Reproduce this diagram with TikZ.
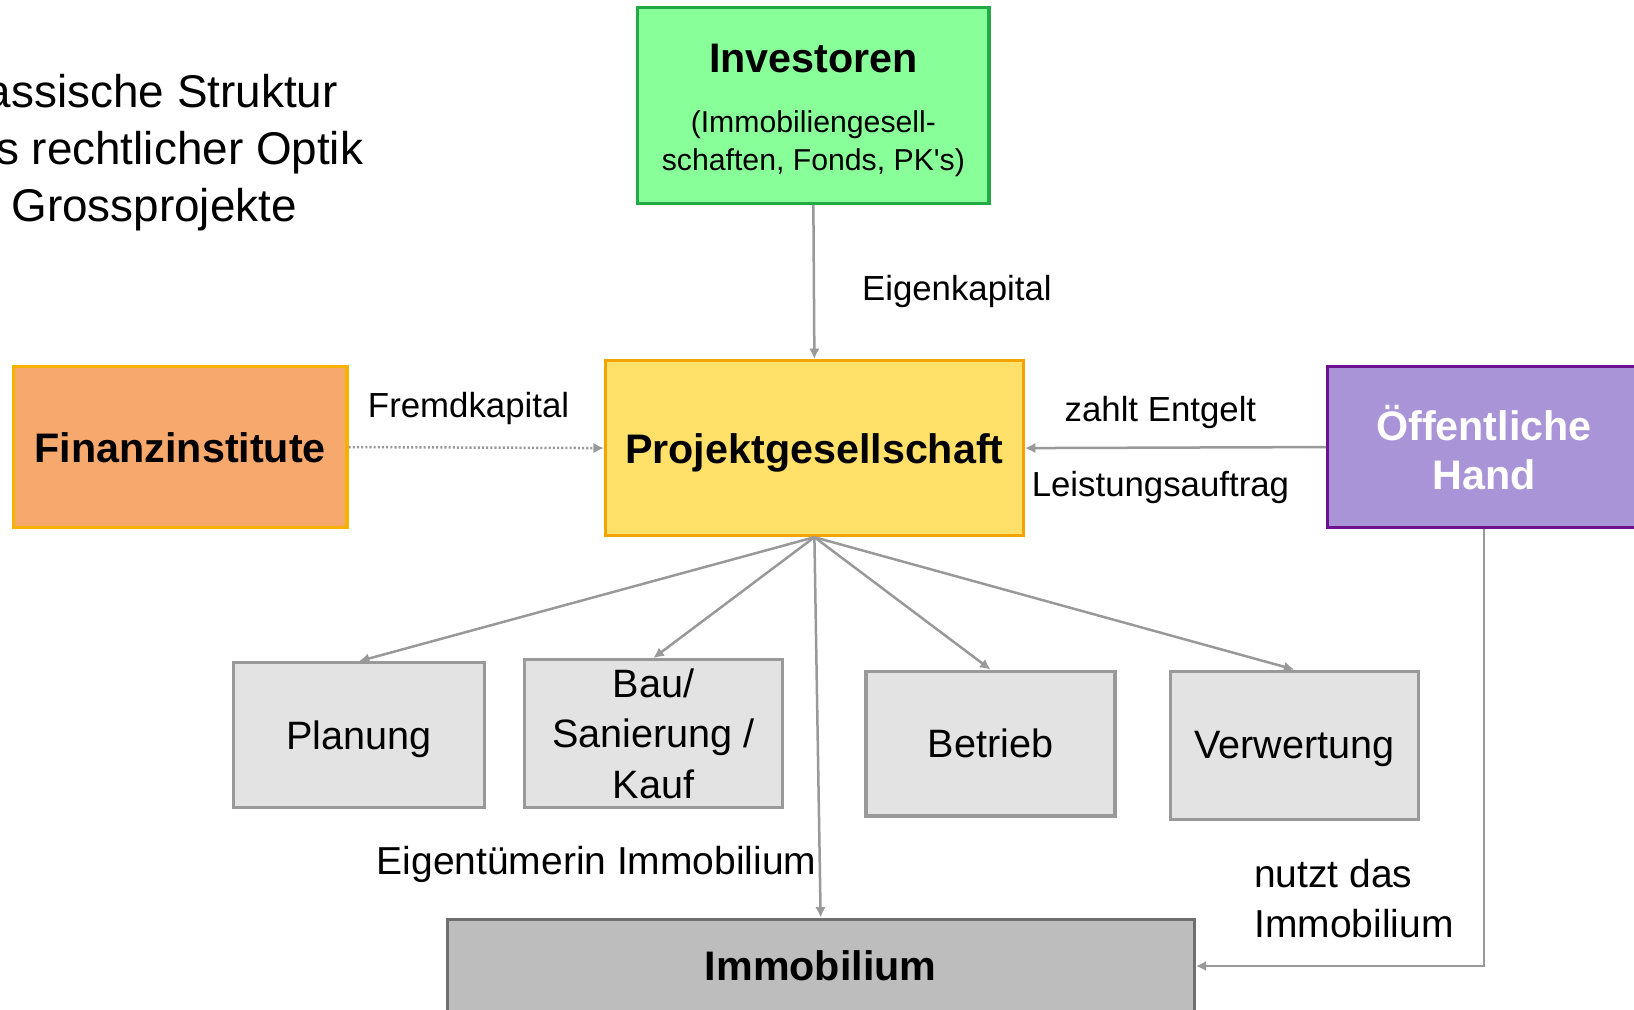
\documentclass[tikz,border=0pt]{standalone}
\usepackage{fontspec}
\setmainfont{Liberation Sans}
\usepackage{xcolor}
\usetikzlibrary{arrows.meta,calc,positioning}

\definecolor{invgreen}{HTML}{88FF99}
\definecolor{invborder}{HTML}{22AA44}
\definecolor{pgyellow}{HTML}{FFE169}
\definecolor{pgborder}{HTML}{F5A300}
\definecolor{finorange}{HTML}{F7A96D}
\definecolor{finborder}{HTML}{F5B300}
\definecolor{oefflila}{HTML}{A994D8}
\definecolor{oeffborder}{HTML}{6C118F}
\definecolor{taskgray}{HTML}{E3E3E3}
\definecolor{arrowgray}{HTML}{999999}
\definecolor{immogray}{HTML}{BDBDBD}
\definecolor{immoborder}{HTML}{6F6F6F}

\begin{document}
\begin{tikzpicture} [x=1pt, y=1pt, >={Latex[length=5pt,width=5pt]},
		box/.style={draw, line width=1.5pt, inner sep=0pt, align=center},
		task/.style={box, draw=arrowgray, fill=taskgray, text depth=0pt, font=\fontsize{19}{24}\selectfont},
		head/.style={text depth=0pt, font=\fontsize{19.8}{23.5}\selectfont\bfseries},
		lbl/.style={font=\fontsize{16.7}{20}\selectfont, inner sep=0pt},
		lblbig/.style={font=\fontsize{18.7}{24}\selectfont, inner sep=0pt},
		flow/.style={->, draw=arrowgray, line width=1.2pt}]
		
		\useasboundingbox (0,0) rectangle (784,-484.5);
		
		\node (Titel) [anchor=north west, align=left, inner sep=0pt, font=\fontsize{22}{27.4}\selectfont] at (-26.5,-35.4) {Klassische Struktur\\aus rechtlicher Optik\\für Grossprojekte};
		
		
		\begin{scope}
		
		\node (Invest) [box, draw=invborder, fill=invgreen, minimum width=168.5pt, minimum height=94pt] at (390.25,-50.5) {};
		
		\node (Invest_T) [head, inner sep=0pt] at (390.25,-28) {Investoren};
		
		\node (Invest_S) [align=center, inner sep=0pt, font=\fontsize{14.5}{18}\selectfont] at (390.25,-69) {(Immobiliengesell-\\schaften, Fonds, PK\textquotesingle s)};
		
		\node (Projekt_G) [box, head, draw=pgborder, fill=pgyellow, minimum width=200.5pt, minimum height=84pt] at (390.75,-215) {Projektgesellschaft};
		
		\node (Finanz_I) [box, head, draw=finborder, fill=finorange, minimum width=160pt, minimum height=77pt] at (86.5,-214.5) {Finanzinstitute};
		
		\node (Oeff_H) [box, head, draw=oeffborder, fill=oefflila, text=white, minimum width=150pt, minimum height=77pt] at (712,-214.5) {Öffentliche\\Hand};
		
		\end{scope}
		
		
		\begin{scope}
		
		\node (Planung) [task, minimum width=120.5pt, minimum height=69.5pt] at (172.25,-352.75) {Planung};
		
		\node (Bau) [task, minimum width=124pt, minimum height=71pt] at (313.5,-352) {Bau/\\Sanierung /\\Kauf};
		
		\node (Betrieb) [task, minimum width=119.5pt, minimum height=69.5pt] at (475.25,-356.75) {Betrieb};
		
		\node (Verwertung) [task, minimum width=119pt, minimum height=71pt] at (621,-357.5) {Verwertung};
		
		\node (Immo) [box, head, draw=immoborder, fill=immogray, minimum width=358.5pt, minimum height=45pt] at (393.75,-463.5) {Immobilium};
		
		\end{scope}
		
		
		\draw [flow] (Invest.south) to node[lbl, right=22.5pt, pos=0.56] {Eigenkapital} (Projekt_G.north);
		
		\draw [flow, dash pattern=on 1pt off 1pt] (Finanz_I.east) to node[lbl, above=10.5pt, pos=0.47] {Fremdkapital} (Projekt_G.west);
		
		\draw [flow] (Oeff_H.west) to node[lbl, above=8.5pt, pos=0.55] {zahlt Entgelt} node[lbl, below=10.8pt, pos=0.55] {Leistungsauftrag} (Projekt_G.east);
		
		\draw [flow] (Projekt_G.south) -- (Planung.north);
		
		\draw [flow] (Projekt_G.south) -- (Bau.north);
		
		\draw [flow] (Projekt_G.south) -- (Betrieb.north);
		
		\draw [flow] (Projekt_G.south) -- (Verwertung.north);
		
		\draw [flow] (Projekt_G.south) to node[lblbig, left=1pt, pos=0.86] {Eigentümerin Immobilium} (Immo.north);
		
		\draw [flow] (Oeff_H.south) |- node[lblbig, align=left, left=14pt, pos=0.423] {nutzt das\\Immobilium} (Immo.east);
		
		
		\end{tikzpicture}
\end{document}
